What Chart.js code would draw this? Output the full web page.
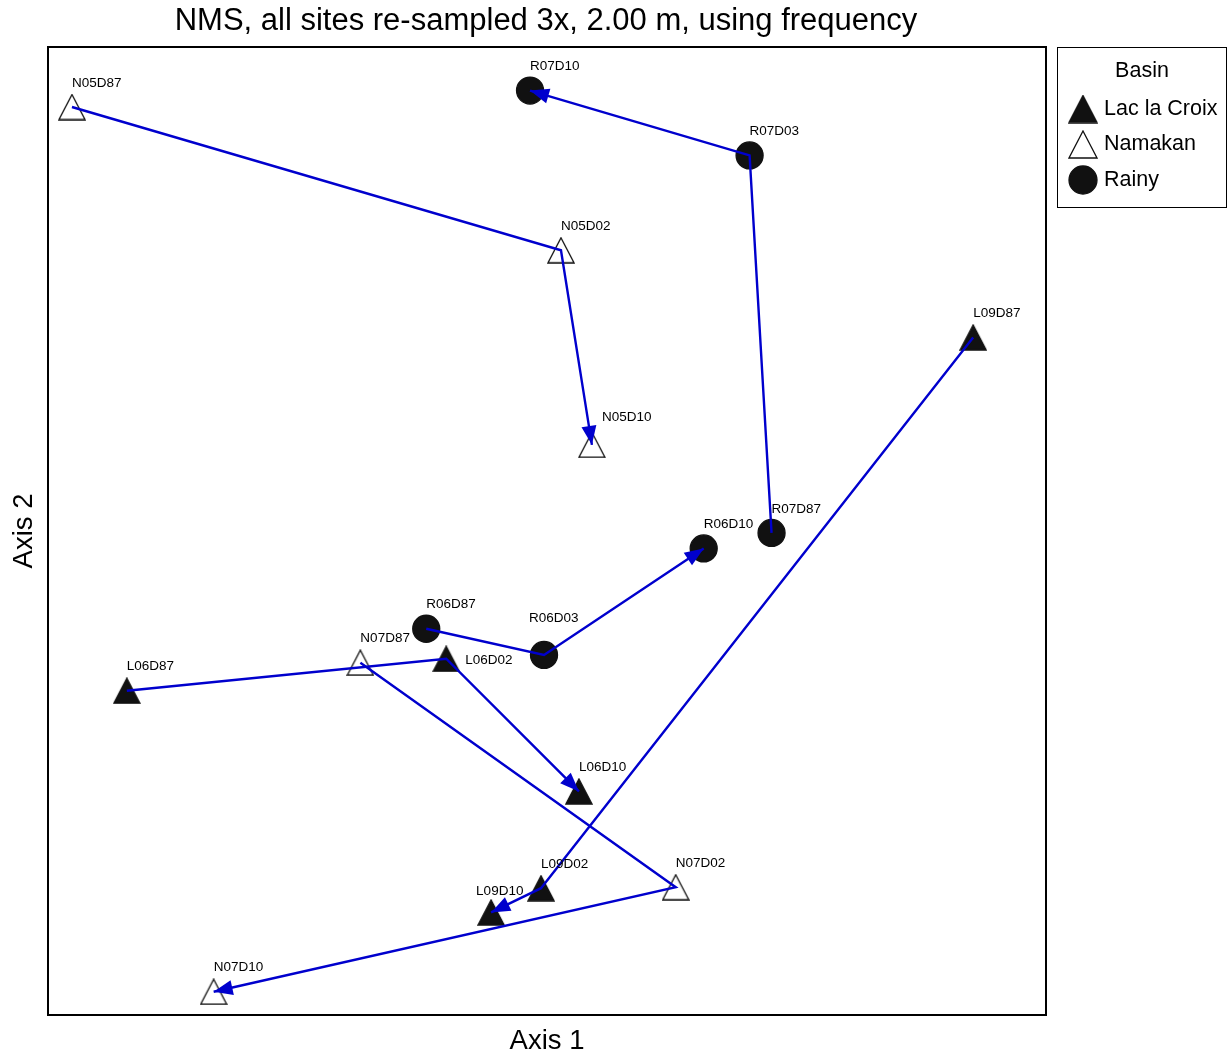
<!DOCTYPE html>
<html>
<head>
<meta charset="utf-8">
<script src="https://cdn.jsdelivr.net/npm/chart.js@4.4.1/dist/chart.umd.min.js"></script>
<style>
  html, body { margin: 0; padding: 0; background: #fff; }
</style>
</head>
<body>
<canvas id="nms" width="1228" height="1057"></canvas>
<script>
// site scores (axis units 0..100, no ticks shown)
const siteNames = ["N05D87","N05D02","N05D10","R07D87","R07D03","R07D10","L09D87","L09D02","L09D10",
                   "R06D87","R06D03","R06D10","N07D87","N07D02","N07D10","L06D87","L06D02","L06D10"];
const siteBasin = ["Namakan","Namakan","Namakan","Rainy","Rainy","Rainy","Lac la Croix","Lac la Croix","Lac la Croix",
                   "Rainy","Rainy","Rainy","Namakan","Namakan","Namakan","Lac la Croix","Lac la Croix","Lac la Croix"];
const axis1 = [2.4, 51.4, 54.5, 72.5, 70.3, 48.3, 92.7, 49.4, 44.4, 37.9, 49.7, 65.7, 31.3, 62.9, 16.6, 7.9, 39.9, 53.2];
const axis2 = [93.8, 79.0, 58.9, 49.8, 88.8, 95.5, 70.0, 13.1, 10.6, 39.9, 37.2, 48.2, 36.4, 13.2, 2.4, 33.5, 36.8, 23.1];

const basinNames = ["Lac la Croix", "Namakan", "Rainy"];
const trajectories = [
  ["N05D87","N05D02","N05D10"],
  ["R07D87","R07D03","R07D10"],
  ["L09D87","L09D02","L09D10"],
  ["R06D87","R06D03","R06D10"],
  ["N07D87","N07D02","N07D10"],
  ["L06D87","L06D02","L06D10"]
];

const chartTitle = "NMS, all sites re-sampled 3x, 2.00 m, using frequency";

// triangle marker drawn into a small canvas so it sits centred on the point
function triangleImg(w, h, fill) {
  const c = document.createElement("canvas");
  c.width = w + 2; c.height = h + 2;
  const g = c.getContext("2d");
  g.beginPath();
  g.moveTo(c.width / 2, 1);
  g.lineTo(w + 1, h + 1);
  g.lineTo(1, h + 1);
  g.closePath();
  g.fillStyle = fill;
  g.fill();
  g.strokeStyle = "#111";
  g.lineWidth = 1.3;
  g.stroke();
  return c;
}

const basinStyle = {
  "Lac la Croix": {pointStyle: triangleImg(26, 25, "#111"), legendStyle: triangleImg(28, 27, "#111"), radius: 13, bg: "#111"},
  "Namakan":      {pointStyle: triangleImg(26, 25, "#fff"), legendStyle: triangleImg(28, 27, "#fff"), radius: 13, bg: "#fff"},
  "Rainy":        {pointStyle: "circle", legendStyle: "circle", radius: 13.5, bg: "#111"}
};
// label offsets from the point (default: above, left aligned)
const labelShift = {
  "L06D02": [19, 2],
  "N05D10": [10, -28],
  "R06D03": [-15, -37],
  "L09D10": [-15, -21]
};
const arrowBlue = "rgb(0,0,205)";

function pt(name) {
  const i = siteNames.indexOf(name);
  return {x: axis1[i], y: axis2[i], name: name};
}

const datasets = [];
basinNames.forEach(b => {
  const s = basinStyle[b];
  datasets.push({
    label: b,
    data: siteNames.filter((n, i) => siteBasin[i] === b).map(pt),
    pointStyle: s.pointStyle,
    pointRadius: s.radius,
    backgroundColor: s.bg,
    borderColor: "#111",
    pointBorderWidth: 1.3,
    showLine: false,
    order: 2
  });
});
trajectories.forEach(t => {
  datasets.push({
    label: t[0].slice(0, 3),
    isPath: true,
    data: t.map(pt),
    showLine: true,
    borderColor: arrowBlue,
    borderWidth: 2.4,
    pointRadius: 0,
    fill: false,
    order: 1
  });
});

const decor = {
  id: "decor",
  afterDatasetsDraw(chart) {
    const ctx = chart.ctx;
    const a = chart.chartArea;
    ctx.save();
    // arrowheads at the last point of each path
    chart.data.datasets.forEach((ds, di) => {
      if (!ds.isPath) return;
      const pts = chart.getDatasetMeta(di).data;
      const p1 = pts[pts.length - 2], p2 = pts[pts.length - 1];
      const ang = Math.atan2(p2.y - p1.y, p2.x - p1.x);
      const len = 19, half = 7.5;
      ctx.fillStyle = arrowBlue;
      ctx.beginPath();
      ctx.moveTo(p2.x, p2.y);
      ctx.lineTo(p2.x - len * Math.cos(ang) + half * Math.sin(ang), p2.y - len * Math.sin(ang) - half * Math.cos(ang));
      ctx.lineTo(p2.x - len * Math.cos(ang) - half * Math.sin(ang), p2.y - len * Math.sin(ang) + half * Math.cos(ang));
      ctx.closePath();
      ctx.fill();
    });

    // site labels
    ctx.fillStyle = "#000";
    ctx.font = "13.5px 'Liberation Sans', Arial, sans-serif";
    ctx.textAlign = "left";
    ctx.textBaseline = "middle";
    chart.data.datasets.forEach((ds, di) => {
      if (ds.isPath) return;
      chart.getDatasetMeta(di).data.forEach((el, k) => {
        const name = ds.data[k].name;
        const off = labelShift[name] || [0, -24];
        ctx.fillText(name, el.x + off[0], el.y + off[1]);
      });
    });

    // frame
    ctx.strokeStyle = "#000";
    ctx.lineWidth = 2;
    ctx.strokeRect(a.left, a.top, a.right - a.left, a.bottom - a.top);

    // title and axis names
    ctx.textAlign = "center";
    ctx.font = "31px 'Liberation Sans', Arial, sans-serif";
    ctx.fillText(chartTitle, 546, 21);
    ctx.font = "27.5px 'Liberation Sans', Arial, sans-serif";
    ctx.fillText("Axis 1", (a.left + a.right) / 2, 1041);
    ctx.save();
    ctx.translate(24, (a.top + a.bottom) / 2);
    ctx.rotate(-Math.PI / 2);
    ctx.fillText("Axis 2", 0, 0);
    ctx.restore();

    // legend
    ctx.lineWidth = 1;
    ctx.strokeRect(1057.5, 47.5, 169, 160);
    ctx.font = "21.5px 'Liberation Sans', Arial, sans-serif";
    ctx.fillText("Basin", 1142, 71);
    ctx.textAlign = "left";
    basinNames.forEach((b, i) => {
      const s = basinStyle[b];
      const y = 109 + i * 35.5;
      ctx.fillStyle = s.bg;
      ctx.strokeStyle = "#111";
      ctx.lineWidth = 1.3;
      Chart.helpers.drawPoint(ctx, {pointStyle: s.legendStyle, radius: 14, rotation: 0, borderWidth: 1.3}, 1083, y);
      ctx.fillStyle = "#000";
      ctx.fillText(b, 1104, y);
    });
    ctx.restore();
  }
};

new Chart("nms", {
  type: "scatter",
  data: {datasets: datasets},
  options: {
    responsive: false,
    animation: false,
    devicePixelRatio: 1,
    events: [],
    layout: {padding: {left: 48, top: 47, right: 182, bottom: 42}},
    scales: {
      x: {type: "linear", min: 0, max: 100, display: false},
      y: {type: "linear", min: 0, max: 100, display: false}
    },
    plugins: {
      legend: {display: false},
      title: {display: false},
      tooltip: {enabled: false}
    }
  },
  plugins: [decor]
});
</script>
</body>
</html>
